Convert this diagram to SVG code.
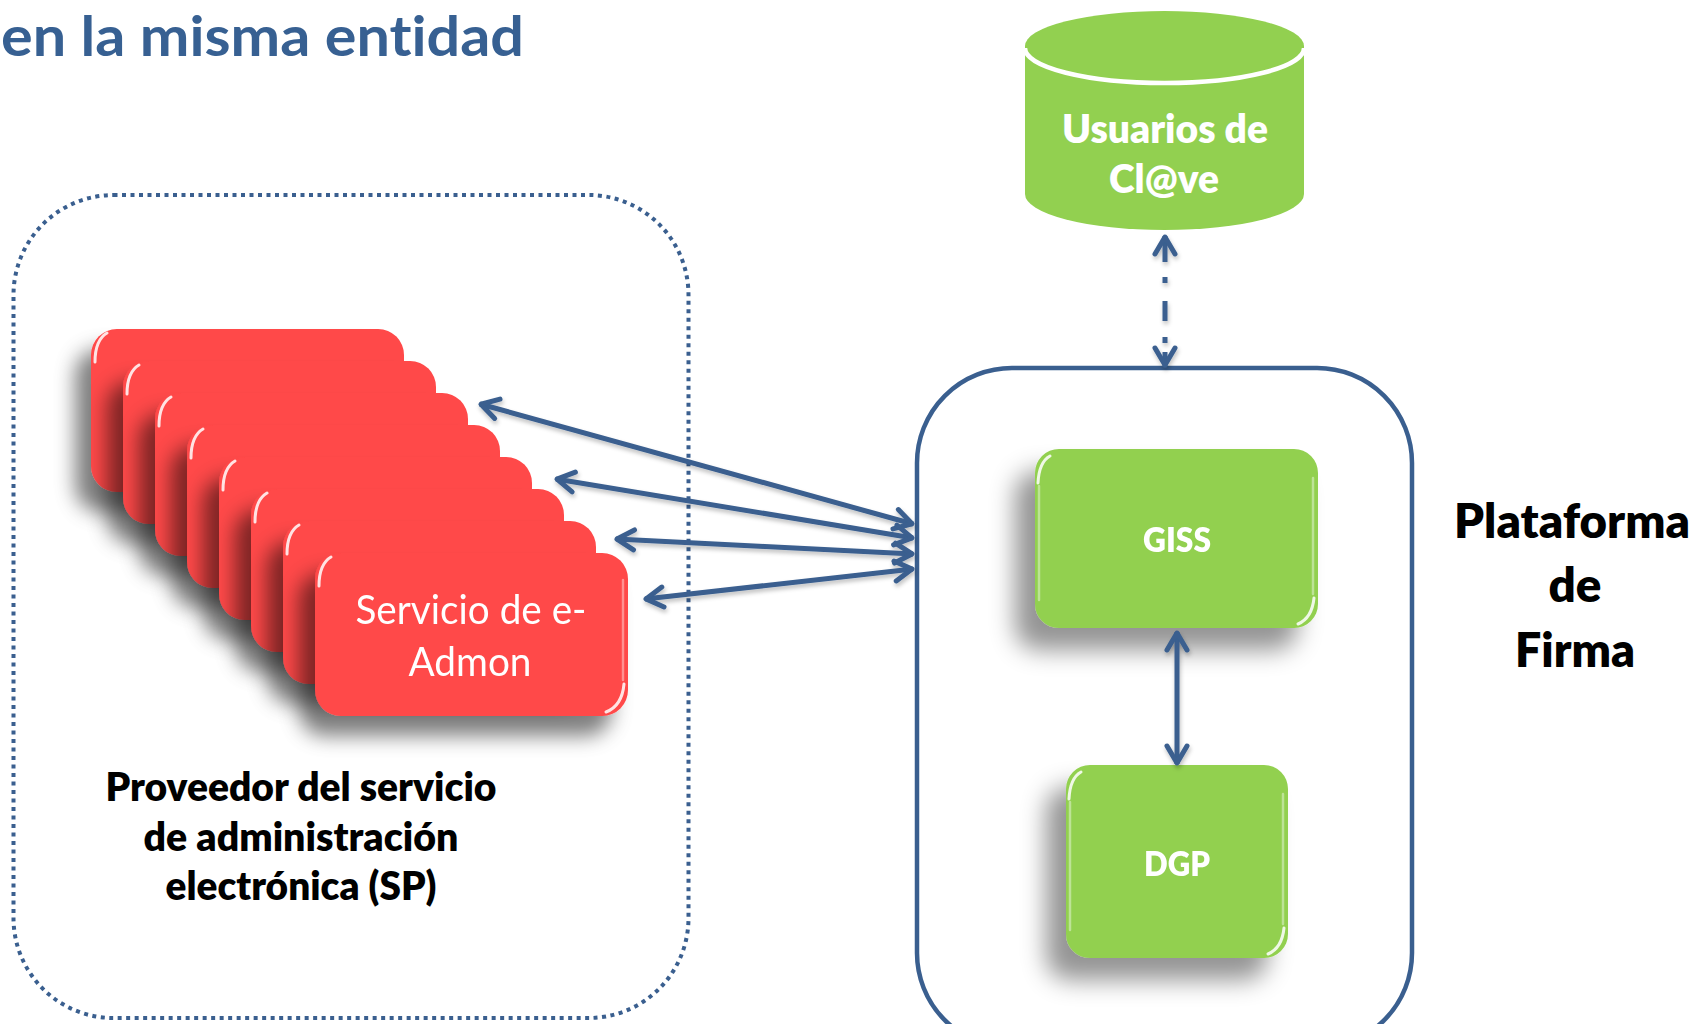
<svg xmlns="http://www.w3.org/2000/svg" width="1699" height="1024" viewBox="0 0 1699 1024">
<style>
.t{font-family:Lato,"Open Sans","Liberation Sans",sans-serif;font-weight:800;text-anchor:middle;font-variant-ligatures:none}
.w{fill:#FFFFFF}
.k{fill:#000000}
.red{fill:#FF4848}
.grn{fill:#92D050}
.hl{fill:none;stroke:#FFFFFF;stroke-width:3;stroke-linecap:round;opacity:0.85}
.hl2{fill:none;stroke:#FFFFFF;stroke-width:2.5;stroke-linecap:round;opacity:0.4}
.con{fill:none;stroke:#3A5F8F;stroke-width:5;stroke-linecap:butt}
.ah{fill:none;stroke:#3A5F8F;stroke-width:5;stroke-linecap:round;stroke-linejoin:round}
</style>
<defs>
<filter id="sh" x="-30%" y="-30%" width="160%" height="170%">
<feGaussianBlur in="SourceAlpha" stdDeviation="10"/>
<feOffset dx="-16" dy="20" result="b"/>
<feFlood flood-color="#000" flood-opacity="0.5"/>
<feComposite in2="b" operator="in"/>
<feMerge><feMergeNode/><feMergeNode in="SourceGraphic"/></feMerge>
</filter>
<filter id="shg" x="-30%" y="-30%" width="160%" height="170%">
<feGaussianBlur in="SourceAlpha" stdDeviation="12"/>
<feOffset dx="-20" dy="22" result="b"/>
<feFlood flood-color="#000" flood-opacity="0.42"/>
<feComposite in2="b" operator="in"/>
<feMerge><feMergeNode/><feMergeNode in="SourceGraphic"/></feMerge>
</filter>
<filter id="shc" x="-10%" y="-10%" width="120%" height="130%">
<feGaussianBlur in="SourceAlpha" stdDeviation="2"/>
<feOffset dx="1" dy="3" result="b"/>
<feFlood flood-color="#000" flood-opacity="0.25"/>
<feComposite in2="b" operator="in"/>
<feMerge><feMergeNode/><feMergeNode in="SourceGraphic"/></feMerge>
</filter>
<marker id="ar" viewBox="0 -12 24 24" refX="21" refY="0" markerUnits="userSpaceOnUse" markerWidth="24" markerHeight="24" orient="auto-start-reverse" overflow="visible">
<path class="ah" d="M3,-10 L20,0 L3,10"/>
</marker>
</defs>

<g id="title">
<text class="t" x="1" y="56" font-size="56" fill="#376092" style="text-anchor:start;font-weight:bold" textLength="523" lengthAdjust="spacingAndGlyphs">en la misma entidad</text>
</g>

<g id="sp-container">
<rect x="13.5" y="195" width="675" height="823" rx="100" ry="100" fill="none" stroke="#3A5F8F" stroke-width="4" stroke-dasharray="4 4.5"/>
<text class="t k" x="301" y="801" font-size="39" textLength="391" lengthAdjust="spacingAndGlyphs">Proveedor del servicio</text>
<text class="t k" x="301" y="851" font-size="39" textLength="315" lengthAdjust="spacingAndGlyphs">de administración</text>
<text class="t k" x="301" y="900" font-size="39" textLength="271" lengthAdjust="spacingAndGlyphs">electrónica (SP)</text>
</g>

<g id="plataforma">
<rect x="917" y="368" width="495" height="680" rx="95" ry="95" fill="none" stroke="#3A5F8F" stroke-width="4.5"/>
<text class="t k" x="1572" y="538" font-size="48" textLength="236" lengthAdjust="spacingAndGlyphs">Plataforma</text>
<text class="t k" x="1575" y="602" font-size="48" textLength="53" lengthAdjust="spacingAndGlyphs">de</text>
<text class="t k" x="1575" y="667" font-size="48" textLength="120" lengthAdjust="spacingAndGlyphs">Firma</text>
</g>

<g id="eadmon-stack">
<g id="eadmon-1" filter="url(#sh)"><rect class="red" x="91" y="329" width="313" height="163" rx="26"/><path class="hl" d="M95,362 Q95,340 107,333"/></g>
<g id="eadmon-2" filter="url(#sh)"><rect class="red" x="123" y="361" width="313" height="163" rx="26"/><path class="hl" d="M127,394 Q127,372 139,365"/></g>
<g id="eadmon-3" filter="url(#sh)"><rect class="red" x="155" y="393" width="313" height="163" rx="26"/><path class="hl" d="M159,426 Q159,404 171,397"/></g>
<g id="eadmon-4" filter="url(#sh)"><rect class="red" x="187" y="425" width="313" height="163" rx="26"/><path class="hl" d="M191,458 Q191,436 203,429"/></g>
<g id="eadmon-5" filter="url(#sh)"><rect class="red" x="219" y="457" width="313" height="163" rx="26"/><path class="hl" d="M223,490 Q223,468 235,461"/></g>
<g id="eadmon-6" filter="url(#sh)"><rect class="red" x="251" y="489" width="313" height="163" rx="26"/><path class="hl" d="M255,522 Q255,500 267,493"/></g>
<g id="eadmon-7" filter="url(#sh)"><rect class="red" x="283" y="521" width="313" height="163" rx="26"/><path class="hl" d="M287,554 Q287,532 299,525"/></g>
<g id="eadmon-8" filter="url(#sh)">
<rect class="red" x="315" y="553" width="313" height="163" rx="26"/>
<path class="hl" d="M319,586 Q319,564 331,557"/>
<path class="hl2" d="M623,580 V680"/>
<path class="hl" d="M624,684 Q622,706 606,712"/>
<text class="t w" x="471" y="624" font-size="40" style="font-weight:normal" textLength="231" lengthAdjust="spacingAndGlyphs">Servicio de e-</text>
<text class="t w" x="470" y="676" font-size="40" style="font-weight:normal" textLength="123" lengthAdjust="spacingAndGlyphs">Admon</text>
</g>
</g>

<g id="giss" filter="url(#shg)">
<rect class="grn" x="1035" y="449" width="283" height="179" rx="24"/>
<path class="hl" d="M1038,483 Q1039,462 1050,456"/>
<path class="hl2" d="M1039,486 V600"/>
<path class="hl2" d="M1313,478 V594"/>
<path class="hl" d="M1314,598 Q1312,618 1298,624"/>
<text class="t w" x="1177" y="552" font-size="34" textLength="68" lengthAdjust="spacingAndGlyphs">GISS</text>
</g>

<g id="dgp" filter="url(#shg)">
<rect class="grn" x="1066" y="765" width="222" height="193" rx="24"/>
<path class="hl" d="M1069,799 Q1070,778 1081,772"/>
<path class="hl2" d="M1070,802 V930"/>
<path class="hl2" d="M1283,794 V924"/>
<path class="hl" d="M1284,928 Q1282,948 1268,954"/>
<text class="t w" x="1177" y="876" font-size="34" textLength="66" lengthAdjust="spacingAndGlyphs">DGP</text>
</g>

<g id="usuarios-clave">
<path class="grn" d="M1025,46 V194 A139.5,36 0 0 0 1304,194 V46 Z"/>
<ellipse class="grn" cx="1164.5" cy="46" rx="139.5" ry="35"/>
<path d="M1025,48 A139.5,35 0 0 0 1304,48" fill="none" stroke="#FFFFFF" stroke-width="4.5"/>
<text class="t w" x="1165" y="143" font-size="39" textLength="206" lengthAdjust="spacingAndGlyphs">Usuarios de</text>
<text class="t w" x="1164" y="193" font-size="39" textLength="110" lengthAdjust="spacingAndGlyphs">Cl@ve</text>
</g>

<g id="connectors" filter="url(#shc)">
<path class="con" d="M913,524 L480,404" marker-start="url(#ar)" marker-end="url(#ar)"/>
<path class="con" d="M913,538 L556,479" marker-start="url(#ar)" marker-end="url(#ar)"/>
<path class="con" d="M913,554 L616,539" marker-start="url(#ar)" marker-end="url(#ar)"/>
<path class="con" d="M913,569 L645,599" marker-start="url(#ar)" marker-end="url(#ar)"/>
<path class="con" d="M1177,632 L1177,764" marker-start="url(#ar)" marker-end="url(#ar)"/>
<path class="con" d="M1165,236 L1165,366" stroke-dasharray="26 15 6 18 20 16 6 9 20 100" marker-start="url(#ar)" marker-end="url(#ar)"/>
</g>
</svg>
